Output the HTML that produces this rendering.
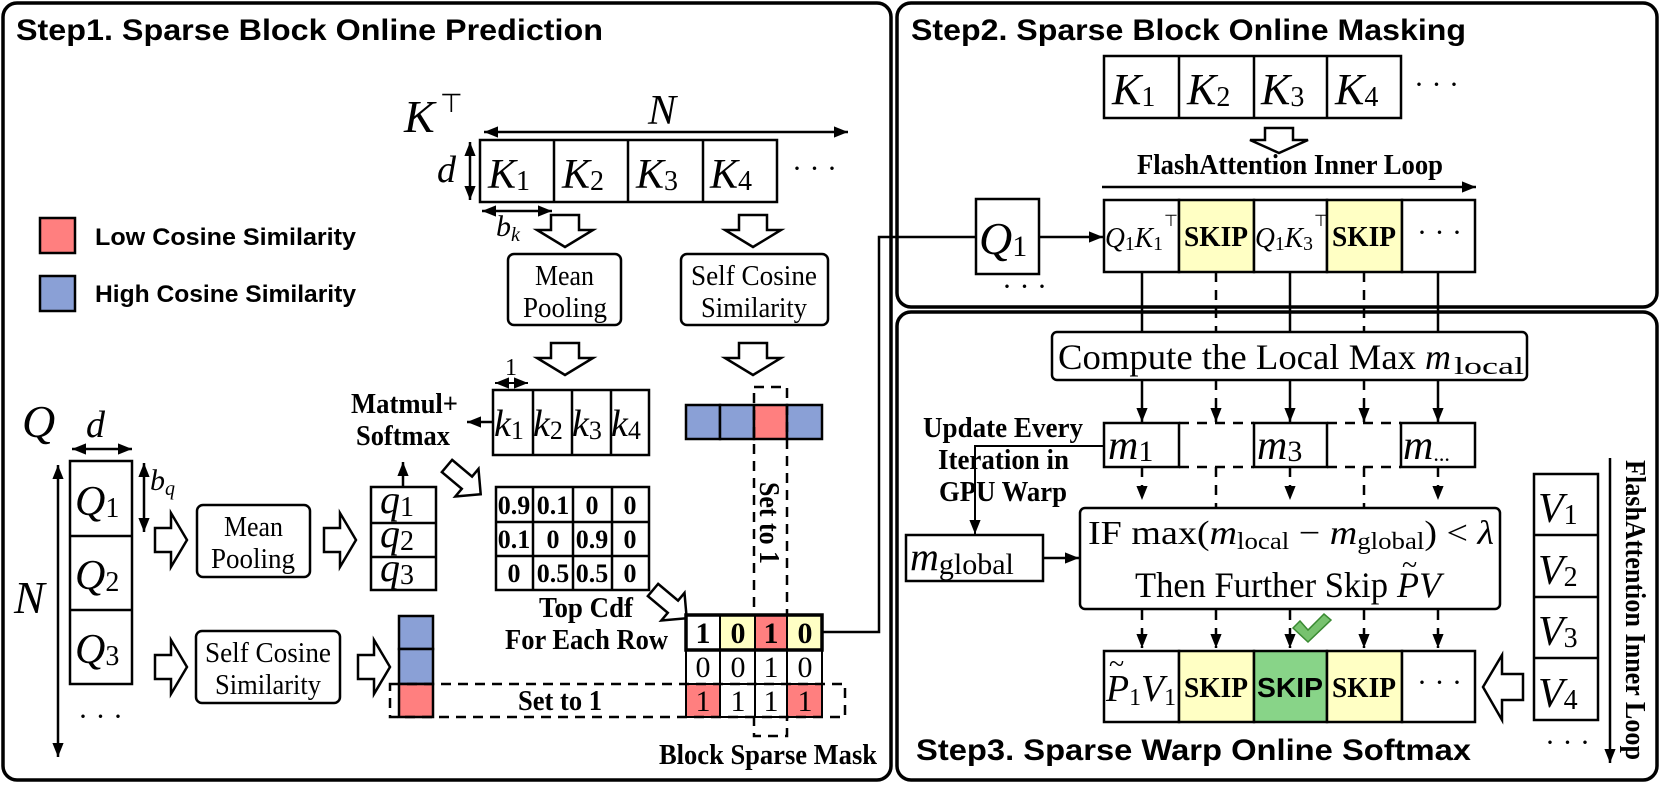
<!DOCTYPE html>
<html><head><meta charset="utf-8">
<style>
html,body{margin:0;padding:0;background:#fff;}
svg{display:block;}
.t{font-family:"Liberation Sans",sans-serif;font-weight:bold;}
.s{font-family:"Liberation Serif",serif;}
.b{font-family:"Liberation Serif",serif;font-weight:bold;}
.m{font-family:"Liberation Serif",serif;font-style:italic;}
</style></head>
<body>
<svg width="1661" height="785" viewBox="0 0 1661 785" xmlns="http://www.w3.org/2000/svg">
<defs>
<marker id="a" viewBox="0 0 10 10" refX="10" refY="5" markerWidth="14" markerHeight="14" orient="auto-start-reverse" markerUnits="userSpaceOnUse">
<path d="M0,1 L10,5 L0,9 z" fill="#000"/></marker>
</defs>
<g fill="none" stroke="#000" stroke-width="3.5">
<rect x="3" y="3" width="888" height="777" rx="14"/>
<rect x="897" y="3" width="760" height="304" rx="14"/>
<rect x="897" y="312" width="760" height="468" rx="14"/>
</g>
<text class="t" x="16" y="40" font-size="30" textLength="587" lengthAdjust="spacingAndGlyphs">Step1. Sparse Block Online Prediction</text>
<text class="t" x="911" y="40" font-size="30" textLength="555" lengthAdjust="spacingAndGlyphs">Step2. Sparse Block Online Masking</text>
<text class="t" x="916" y="760" font-size="30" textLength="555" lengthAdjust="spacingAndGlyphs">Step3. Sparse Warp Online Softmax</text>

<rect x="40" y="218" width="35" height="35" fill="#FF7F7F" stroke="#000" stroke-width="2.5"/>
<rect x="40" y="276" width="35" height="35" fill="#8AA0D6" stroke="#000" stroke-width="2.5"/>
<text class="t" x="95" y="245" font-size="24" textLength="261" lengthAdjust="spacingAndGlyphs">Low  Cosine Similarity</text>
<text class="t" x="95" y="302" font-size="24" textLength="261" lengthAdjust="spacingAndGlyphs">High Cosine Similarity</text>

<text class="m" x="404" y="132" font-size="46">K</text><text class="s" x="440" y="112" font-size="26">⊤</text>
<text class="m" x="648" y="124" font-size="42">N</text>
<line x1="484" y1="132" x2="848" y2="132" stroke="#000" stroke-width="2.5" marker-start="url(#a)" marker-end="url(#a)"/>
<rect x="480" y="140" width="297" height="62" fill="#fff" stroke="#000" stroke-width="2.5"/>
<g stroke="#000" stroke-width="2.5"><line x1="554" y1="140" x2="554" y2="202"/><line x1="628" y1="140" x2="628" y2="202"/><line x1="703" y1="140" x2="703" y2="202"/></g>
<g class="m" font-size="42">
<text x="488" y="188">K<tspan class="s" font-style="normal" font-size="28" dy="2">1</tspan></text>
<text x="562" y="188">K<tspan class="s" font-style="normal" font-size="28" dy="2">2</tspan></text>
<text x="636" y="188">K<tspan class="s" font-style="normal" font-size="28" dy="2">3</tspan></text>
<text x="710" y="188">K<tspan class="s" font-style="normal" font-size="28" dy="2">4</tspan></text>
</g>
<text class="s" x="792" y="178" font-size="30">· · ·</text>
<text class="m" x="437" y="182" font-size="38">d</text>
<line x1="470" y1="142" x2="470" y2="200" stroke="#000" stroke-width="2.5" marker-start="url(#a)" marker-end="url(#a)"/>
<line x1="482" y1="211" x2="552" y2="211" stroke="#000" stroke-width="2.5" marker-start="url(#a)" marker-end="url(#a)"/>
<text class="m" x="496" y="236" font-size="30">b<tspan font-size="20" dy="5">k</tspan></text>

<g fill="#fff" stroke="#000" stroke-width="2.5">
<polygon points="551,215 579,215 579,230 593,230 565,247 537,230 551,230"/>
<polygon points="739,215 767,215 767,230 781,230 753,247 725,230 739,230"/>
<polygon points="551,343 579,343 579,358 593,358 565,375 537,358 551,358"/>
<polygon points="739,343 767,343 767,358 781,358 753,375 725,358 739,358"/>
<rect x="508" y="254" width="113" height="71" rx="6"/>
<rect x="681" y="254" width="147" height="71" rx="6"/>
</g>
<text class="s" x="535" y="285" font-size="28" textLength="59" lengthAdjust="spacingAndGlyphs">Mean</text>
<text class="s" x="523" y="317" font-size="28" textLength="84" lengthAdjust="spacingAndGlyphs">Pooling</text>
<text class="s" x="691" y="285" font-size="28" textLength="126" lengthAdjust="spacingAndGlyphs">Self Cosine</text>
<text class="s" x="701" y="317" font-size="28" textLength="106" lengthAdjust="spacingAndGlyphs">Similarity</text>

<text class="s" x="511" y="375" font-size="24" text-anchor="middle">1</text>
<line x1="495" y1="383" x2="528" y2="383" stroke="#000" stroke-width="2" marker-start="url(#a)" marker-end="url(#a)"/>
<rect x="493" y="390" width="156" height="65" fill="#fff" stroke="#000" stroke-width="2.5"/>
<g stroke="#000" stroke-width="2.5"><line x1="533" y1="390" x2="533" y2="455"/><line x1="572" y1="390" x2="572" y2="455"/><line x1="611" y1="390" x2="611" y2="455"/></g>
<g class="m" font-size="38">
<text x="494" y="436">k<tspan class="s" font-style="normal" font-size="26" dy="3">1</tspan></text>
<text x="533" y="436">k<tspan class="s" font-style="normal" font-size="26" dy="3">2</tspan></text>
<text x="572" y="436">k<tspan class="s" font-style="normal" font-size="26" dy="3">3</tspan></text>
<text x="611" y="436">k<tspan class="s" font-style="normal" font-size="26" dy="3">4</tspan></text>
</g>
<line x1="493" y1="422" x2="467" y2="422" stroke="#000" stroke-width="2.5" marker-end="url(#a)"/>
<text class="b" x="351" y="413" font-size="28" textLength="107" lengthAdjust="spacingAndGlyphs">Matmul+</text>
<text class="b" x="356" y="445" font-size="28" textLength="94" lengthAdjust="spacingAndGlyphs">Softmax</text>

<g stroke="#000" stroke-width="2.5">
<rect x="686" y="405" width="34" height="34" fill="#8AA0D6"/>
<rect x="720" y="405" width="34" height="34" fill="#8AA0D6"/>
<rect x="754" y="405" width="33" height="34" fill="#FF7F7F"/>
<rect x="787" y="405" width="35" height="34" fill="#8AA0D6"/>
</g>
<rect x="754" y="387" width="33" height="349" fill="none" stroke="#000" stroke-width="2.5" stroke-dasharray="10,7"/>
<text class="b" x="0" y="0" font-size="28" transform="translate(760,482) rotate(90)" textLength="82" lengthAdjust="spacingAndGlyphs">Set to 1</text>

<text class="m" x="22" y="437" font-size="46">Q</text>
<text class="m" x="86" y="437" font-size="38">d</text>
<line x1="72" y1="449" x2="132" y2="449" stroke="#000" stroke-width="2.5" marker-start="url(#a)" marker-end="url(#a)"/>
<line x1="58" y1="465" x2="58" y2="757" stroke="#000" stroke-width="2.5" marker-start="url(#a)" marker-end="url(#a)"/>
<text class="m" x="14" y="613" font-size="46">N</text>
<rect x="70" y="461" width="62" height="223" fill="#fff" stroke="#000" stroke-width="2.5"/>
<g stroke="#000" stroke-width="2.5"><line x1="70" y1="536" x2="132" y2="536"/><line x1="70" y1="610" x2="132" y2="610"/></g>
<g class="m" font-size="42">
<text x="75" y="515">Q<tspan class="s" font-style="normal" font-size="28" dy="2">1</tspan></text>
<text x="75" y="589">Q<tspan class="s" font-style="normal" font-size="28" dy="2">2</tspan></text>
<text x="75" y="663">Q<tspan class="s" font-style="normal" font-size="28" dy="2">3</tspan></text>
</g>
<text class="s" x="78" y="726" font-size="30">· · ·</text>
<line x1="144" y1="463" x2="144" y2="532" stroke="#000" stroke-width="2.5" marker-start="url(#a)" marker-end="url(#a)"/>
<text class="m" x="150" y="490" font-size="30">b<tspan font-size="20" dy="5">q</tspan></text>

<g fill="#fff" stroke="#000" stroke-width="2.5">
<polygon points="155,528 171,528 171,513 187,540 171,567 171,552 155,552"/>
<polygon points="324,528 340,528 340,513 356,540 340,567 340,552 324,552"/>
<polygon points="155,655 171,655 171,640 187,667 171,694 171,679 155,679"/>
<polygon points="358,655 374,655 374,640 390,667 374,694 374,679 358,679"/>
<rect x="197" y="505" width="113" height="72" rx="6"/>
<rect x="196" y="631" width="144" height="72" rx="6"/>
<polygon points="0,-8 26,-8 26,-18 44,0 26,18 26,8 0,8" transform="translate(447,466) rotate(40)"/>
<polygon points="0,-8 26,-8 26,-18 44,0 26,18 26,8 0,8" transform="translate(653,590) rotate(40)"/>
</g>
<text class="s" x="224" y="536" font-size="28" textLength="59" lengthAdjust="spacingAndGlyphs">Mean</text>
<text class="s" x="211" y="568" font-size="28" textLength="84" lengthAdjust="spacingAndGlyphs">Pooling</text>
<text class="s" x="205" y="662" font-size="28" textLength="126" lengthAdjust="spacingAndGlyphs">Self Cosine</text>
<text class="s" x="215" y="694" font-size="28" textLength="106" lengthAdjust="spacingAndGlyphs">Similarity</text>

<line x1="403" y1="487" x2="403" y2="462" stroke="#000" stroke-width="2.5" marker-end="url(#a)"/>
<rect x="371" y="487" width="65" height="103" fill="#fff" stroke="#000" stroke-width="2.5"/>
<g stroke="#000" stroke-width="2.5"><line x1="371" y1="523" x2="436" y2="523"/><line x1="371" y1="557" x2="436" y2="557"/></g>
<g class="m" font-size="40">
<text x="380" y="513">q<tspan class="s" font-style="normal" font-size="28" dy="3">1</tspan></text>
<text x="380" y="547">q<tspan class="s" font-style="normal" font-size="28" dy="3">2</tspan></text>
<text x="380" y="581">q<tspan class="s" font-style="normal" font-size="28" dy="3">3</tspan></text>
</g>

<rect x="496" y="487" width="153" height="103" fill="#fff" stroke="#000" stroke-width="2.5"/>
<g stroke="#000" stroke-width="2.5">
<line x1="533" y1="487" x2="533" y2="590"/><line x1="573" y1="487" x2="573" y2="590"/><line x1="612" y1="487" x2="612" y2="590"/>
<line x1="496" y1="522" x2="649" y2="522"/><line x1="496" y1="556" x2="649" y2="556"/>
</g>
<g class="b" font-size="26" text-anchor="middle">
<text x="514" y="514">0.9</text><text x="553" y="514">0.1</text><text x="592" y="514">0</text><text x="630" y="514">0</text>
<text x="514" y="548">0.1</text><text x="553" y="548">0</text><text x="592" y="548">0.9</text><text x="630" y="548">0</text>
<text x="514" y="582">0</text><text x="553" y="582">0.5</text><text x="592" y="582">0.5</text><text x="630" y="582">0</text>
</g>
<text class="b" x="539" y="617" font-size="28" textLength="94" lengthAdjust="spacingAndGlyphs">Top Cdf</text>
<text class="b" x="505" y="649" font-size="28" textLength="163" lengthAdjust="spacingAndGlyphs">For Each Row</text>

<g stroke="#000" stroke-width="2.5">
<rect x="399" y="616" width="34" height="33" fill="#8AA0D6"/>
<rect x="399" y="649" width="34" height="35" fill="#8AA0D6"/>
<rect x="399" y="684" width="34" height="33" fill="#FF7F7F"/>
</g>

<g stroke="#000" stroke-width="2">
<rect x="686" y="615" width="34" height="35" fill="#fff"/>
<rect x="720" y="615" width="35" height="35" fill="#FFFFC4"/>
<rect x="755" y="615" width="32" height="35" fill="#FF7F7F"/>
<rect x="787" y="615" width="35" height="35" fill="#FFFFC4"/>
<rect x="686" y="650" width="136" height="34" fill="#fff"/>
<rect x="686" y="684" width="34" height="33" fill="#FF7F7F"/>
<rect x="720" y="684" width="67" height="33" fill="#fff"/>
<rect x="787" y="684" width="35" height="33" fill="#FF7F7F"/>
<line x1="720" y1="650" x2="720" y2="717"/><line x1="755" y1="650" x2="755" y2="717"/><line x1="787" y1="650" x2="787" y2="684"/>
</g>
<rect x="686" y="615" width="136" height="35" fill="none" stroke="#000" stroke-width="3.5"/>
<g class="b" font-size="30" text-anchor="middle">
<text x="703" y="643">1</text><text x="738" y="643">0</text><text x="771" y="643">1</text><text x="805" y="643">0</text>
</g>
<g class="s" font-size="30" text-anchor="middle">
<text x="703" y="677">0</text><text x="738" y="677">0</text><text x="771" y="677">1</text><text x="805" y="677">0</text>
<text x="703" y="711">1</text><text x="738" y="711">1</text><text x="771" y="711">1</text><text x="805" y="711">1</text>
</g>
<rect x="390" y="684" width="455" height="33" fill="none" stroke="#000" stroke-width="2.5" stroke-dasharray="10,7"/>
<text class="b" x="518" y="710" font-size="28" textLength="84" lengthAdjust="spacingAndGlyphs">Set to 1</text>
<text class="b" x="659" y="764" font-size="28" textLength="218" lengthAdjust="spacingAndGlyphs">Block Sparse Mask</text>

<polyline points="822,632 879,632 879,237 976,237" fill="none" stroke="#000" stroke-width="2.5"/>

<rect x="1104" y="56" width="297" height="62" fill="#fff" stroke="#000" stroke-width="2.5"/>
<g stroke="#000" stroke-width="2.5"><line x1="1179" y1="56" x2="1179" y2="118"/><line x1="1254" y1="56" x2="1254" y2="118"/><line x1="1327" y1="56" x2="1327" y2="118"/></g>
<g class="m" font-size="44">
<text x="1112" y="104">K<tspan class="s" font-style="normal" font-size="28" dy="2">1</tspan></text>
<text x="1187" y="104">K<tspan class="s" font-style="normal" font-size="28" dy="2">2</tspan></text>
<text x="1261" y="104">K<tspan class="s" font-style="normal" font-size="28" dy="2">3</tspan></text>
<text x="1335" y="104">K<tspan class="s" font-style="normal" font-size="28" dy="2">4</tspan></text>
</g>
<text class="s" x="1414" y="94" font-size="30">· · ·</text>
<polygon points="1265,128 1293,128 1293,140 1308,140 1279,153 1250,140 1265,140" fill="#fff" stroke="#000" stroke-width="2.5"/>
<text class="b" x="1137" y="174" font-size="28" textLength="306" lengthAdjust="spacingAndGlyphs">FlashAttention Inner Loop</text>
<line x1="1102" y1="187" x2="1476" y2="187" stroke="#000" stroke-width="2.5" marker-end="url(#a)"/>
<rect x="976" y="199" width="63" height="75" fill="#fff" stroke="#000" stroke-width="2.5"/>
<text class="m" x="979" y="254" font-size="46">Q<tspan class="s" font-style="normal" font-size="30" dy="2">1</tspan></text>
<text class="s" x="1002" y="296" font-size="30">· · ·</text>
<line x1="1039" y1="237" x2="1103" y2="237" stroke="#000" stroke-width="2.5" marker-end="url(#a)"/>
<g stroke="#000" stroke-width="2.5">
<rect x="1104" y="200" width="75" height="72" fill="#fff"/>
<rect x="1179" y="200" width="75" height="72" fill="#FFFFC4"/>
<rect x="1254" y="200" width="73" height="72" fill="#fff"/>
<rect x="1327" y="200" width="75" height="72" fill="#FFFFC4"/>
<rect x="1402" y="200" width="73" height="72" fill="#fff"/>
</g>
<text class="m" x="1105" y="247" font-size="28" textLength="58" lengthAdjust="spacingAndGlyphs">Q<tspan class="s" font-style="normal" font-size="20" dy="3">1</tspan><tspan dy="-3">K</tspan><tspan class="s" font-style="normal" font-size="20" dy="3">1</tspan></text>
<text class="s" x="1164" y="226" font-size="16">⊤</text>
<text class="m" x="1255" y="247" font-size="28" textLength="58" lengthAdjust="spacingAndGlyphs">Q<tspan class="s" font-style="normal" font-size="20" dy="3">1</tspan><tspan dy="-3">K</tspan><tspan class="s" font-style="normal" font-size="20" dy="3">3</tspan></text>
<text class="s" x="1314" y="226" font-size="16">⊤</text>
<text class="b" x="1216" y="246" font-size="28" text-anchor="middle" textLength="64" lengthAdjust="spacingAndGlyphs">SKIP</text>
<text class="b" x="1364" y="246" font-size="28" text-anchor="middle" textLength="64" lengthAdjust="spacingAndGlyphs">SKIP</text>
<text class="s" x="1417" y="242" font-size="30">· · ·</text>

<g stroke="#000" stroke-width="2.5">
<line x1="1142" y1="272" x2="1142" y2="332"/><line x1="1290" y1="272" x2="1290" y2="332"/><line x1="1438" y1="272" x2="1438" y2="332"/>
<line x1="1216" y1="272" x2="1216" y2="332" stroke-dasharray="10,8"/><line x1="1364" y1="272" x2="1364" y2="332" stroke-dasharray="10,8"/>
</g>
<rect x="1052" y="332" width="475" height="48" rx="5" fill="#fff" stroke="#000" stroke-width="2.5"/>
<text class="s" x="1058" y="369" font-size="36" textLength="358" lengthAdjust="spacingAndGlyphs">Compute the Local Max</text>
<text class="m" x="1425" y="369" font-size="36">m</text><text class="s" x="1454" y="374" font-size="24" textLength="70" lengthAdjust="spacingAndGlyphs">local</text>

<g stroke="#000" stroke-width="2.5" marker-end="url(#a)">
<line x1="1142" y1="380" x2="1142" y2="422"/><line x1="1290" y1="380" x2="1290" y2="422"/><line x1="1438" y1="380" x2="1438" y2="422"/>
<line x1="1216" y1="380" x2="1216" y2="422" stroke-dasharray="10,8"/><line x1="1364" y1="380" x2="1364" y2="422" stroke-dasharray="10,8"/>
</g>
<g stroke="#000" stroke-width="2.5" stroke-dasharray="10,8">
<line x1="1179" y1="423" x2="1254" y2="423"/><line x1="1179" y1="467" x2="1254" y2="467"/>
<line x1="1327" y1="423" x2="1401" y2="423"/><line x1="1327" y1="467" x2="1401" y2="467"/>
</g>
<g fill="#fff" stroke="#000" stroke-width="2.5">
<rect x="1104" y="423" width="75" height="44"/>
<rect x="1254" y="423" width="73" height="44"/>
<rect x="1401" y="423" width="74" height="44"/>
</g>
<text class="m" x="1108" y="459" font-size="42">m<tspan class="s" font-style="normal" font-size="30" dy="2">1</tspan></text>
<text class="m" x="1257" y="459" font-size="42">m<tspan class="s" font-style="normal" font-size="30" dy="2">3</tspan></text>
<text class="m" x="1403" y="459" font-size="42">m<tspan class="s" font-style="normal" font-size="22" dy="2">...</tspan></text>

<text class="b" x="923" y="437" font-size="28" textLength="160" lengthAdjust="spacingAndGlyphs">Update Every</text>
<text class="b" x="938" y="469" font-size="28" textLength="131" lengthAdjust="spacingAndGlyphs">Iteration in</text>
<text class="b" x="939" y="501" font-size="28" textLength="128" lengthAdjust="spacingAndGlyphs">GPU Warp</text>
<polyline points="1104,446 975,446 975,534" fill="none" stroke="#000" stroke-width="2" marker-end="url(#a)"/>
<rect x="906" y="535" width="137" height="46" fill="#fff" stroke="#000" stroke-width="2.5"/>
<text class="m" x="910" y="570" font-size="40">m<tspan class="s" font-style="normal" font-size="30" dy="4">global</tspan></text>
<line x1="1043" y1="558" x2="1079" y2="558" stroke="#000" stroke-width="2.5" marker-end="url(#a)"/>

<g stroke="#000" stroke-width="2.5" stroke-dasharray="10,8">
<line x1="1142" y1="467" x2="1142" y2="500" marker-end="url(#a)"/>
<line x1="1290" y1="467" x2="1290" y2="500" marker-end="url(#a)"/>
<line x1="1438" y1="467" x2="1438" y2="500" marker-end="url(#a)"/>
<line x1="1216" y1="467" x2="1216" y2="508"/><line x1="1364" y1="467" x2="1364" y2="508"/>
</g>
<rect x="1080" y="508" width="420" height="101" rx="5" fill="#fff" stroke="#000" stroke-width="2.5"/>
<text class="s" x="1088" y="544" font-size="34" textLength="406" lengthAdjust="spacingAndGlyphs">IF  max(<tspan class="m">m</tspan><tspan font-size="24" dy="5">local</tspan><tspan dy="-5"> − </tspan><tspan class="m">m</tspan><tspan font-size="24" dy="5">global</tspan><tspan dy="-5">) &lt; </tspan><tspan class="m">λ</tspan></text>
<text class="s" x="1135" y="597" font-size="36" textLength="253" lengthAdjust="spacingAndGlyphs">Then Further Skip</text>
<text class="m" x="1397" y="597" font-size="36">PV</text>
<text class="s" x="1402" y="574" font-size="28">~</text>

<g stroke="#000" stroke-width="2.5" stroke-dasharray="10,8" marker-end="url(#a)">
<line x1="1142" y1="610" x2="1142" y2="648"/><line x1="1216" y1="610" x2="1216" y2="648"/><line x1="1290" y1="610" x2="1290" y2="648"/><line x1="1364" y1="610" x2="1364" y2="648"/><line x1="1438" y1="610" x2="1438" y2="648"/>
</g>
<polygon points="1293,628 1300,621 1308,630 1324,614 1331,620 1308,642" fill="#77C26E" stroke="#3A8A32" stroke-width="1.5"/>

<g stroke="#000" stroke-width="2.5">
<rect x="1104" y="651" width="75" height="71" fill="#fff"/>
<rect x="1179" y="651" width="75" height="71" fill="#FFFFC4"/>
<rect x="1254" y="651" width="73" height="71" fill="#88D488"/>
<rect x="1327" y="651" width="75" height="71" fill="#FFFFC4"/>
<rect x="1402" y="651" width="73" height="71" fill="#fff"/>
</g>
<text class="m" x="1106" y="701" font-size="38" textLength="70" lengthAdjust="spacingAndGlyphs">P<tspan class="s" font-style="normal" font-size="24" dy="4">1</tspan><tspan dy="-4">V</tspan><tspan class="s" font-style="normal" font-size="24" dy="4">1</tspan></text>
<text class="s" x="1109" y="673" font-size="28">~</text>
<text class="b" x="1216" y="697" font-size="28" text-anchor="middle" textLength="64" lengthAdjust="spacingAndGlyphs">SKIP</text>
<text class="t" x="1290" y="697" font-size="28" text-anchor="middle" textLength="66" lengthAdjust="spacingAndGlyphs">SKIP</text>
<text class="b" x="1364" y="697" font-size="28" text-anchor="middle" textLength="64" lengthAdjust="spacingAndGlyphs">SKIP</text>
<text class="s" x="1417" y="692" font-size="30">· · ·</text>

<polygon points="1523,674 1502,674 1502,655 1483,687 1502,720 1502,700 1523,700" fill="#fff" stroke="#000" stroke-width="2.5"/>
<rect x="1534" y="474" width="64" height="246" fill="#fff" stroke="#000" stroke-width="2.5"/>
<g stroke="#000" stroke-width="2.5"><line x1="1534" y1="535" x2="1598" y2="535"/><line x1="1534" y1="597" x2="1598" y2="597"/><line x1="1534" y1="658" x2="1598" y2="658"/></g>
<g class="m" font-size="42">
<text x="1538" y="522">V<tspan class="s" font-style="normal" font-size="28" dy="2">1</tspan></text>
<text x="1538" y="584">V<tspan class="s" font-style="normal" font-size="28" dy="2">2</tspan></text>
<text x="1538" y="645">V<tspan class="s" font-style="normal" font-size="28" dy="2">3</tspan></text>
<text x="1538" y="707">V<tspan class="s" font-style="normal" font-size="28" dy="2">4</tspan></text>
</g>
<text class="s" x="1545" y="752" font-size="30">· · ·</text>
<line x1="1610" y1="458" x2="1610" y2="763" stroke="#000" stroke-width="2.5" marker-end="url(#a)"/>
<text class="b" x="0" y="0" font-size="28" transform="translate(1626,460) rotate(90)" textLength="300" lengthAdjust="spacingAndGlyphs">FlashAttention Inner Loop</text>
</svg>
</body></html>
